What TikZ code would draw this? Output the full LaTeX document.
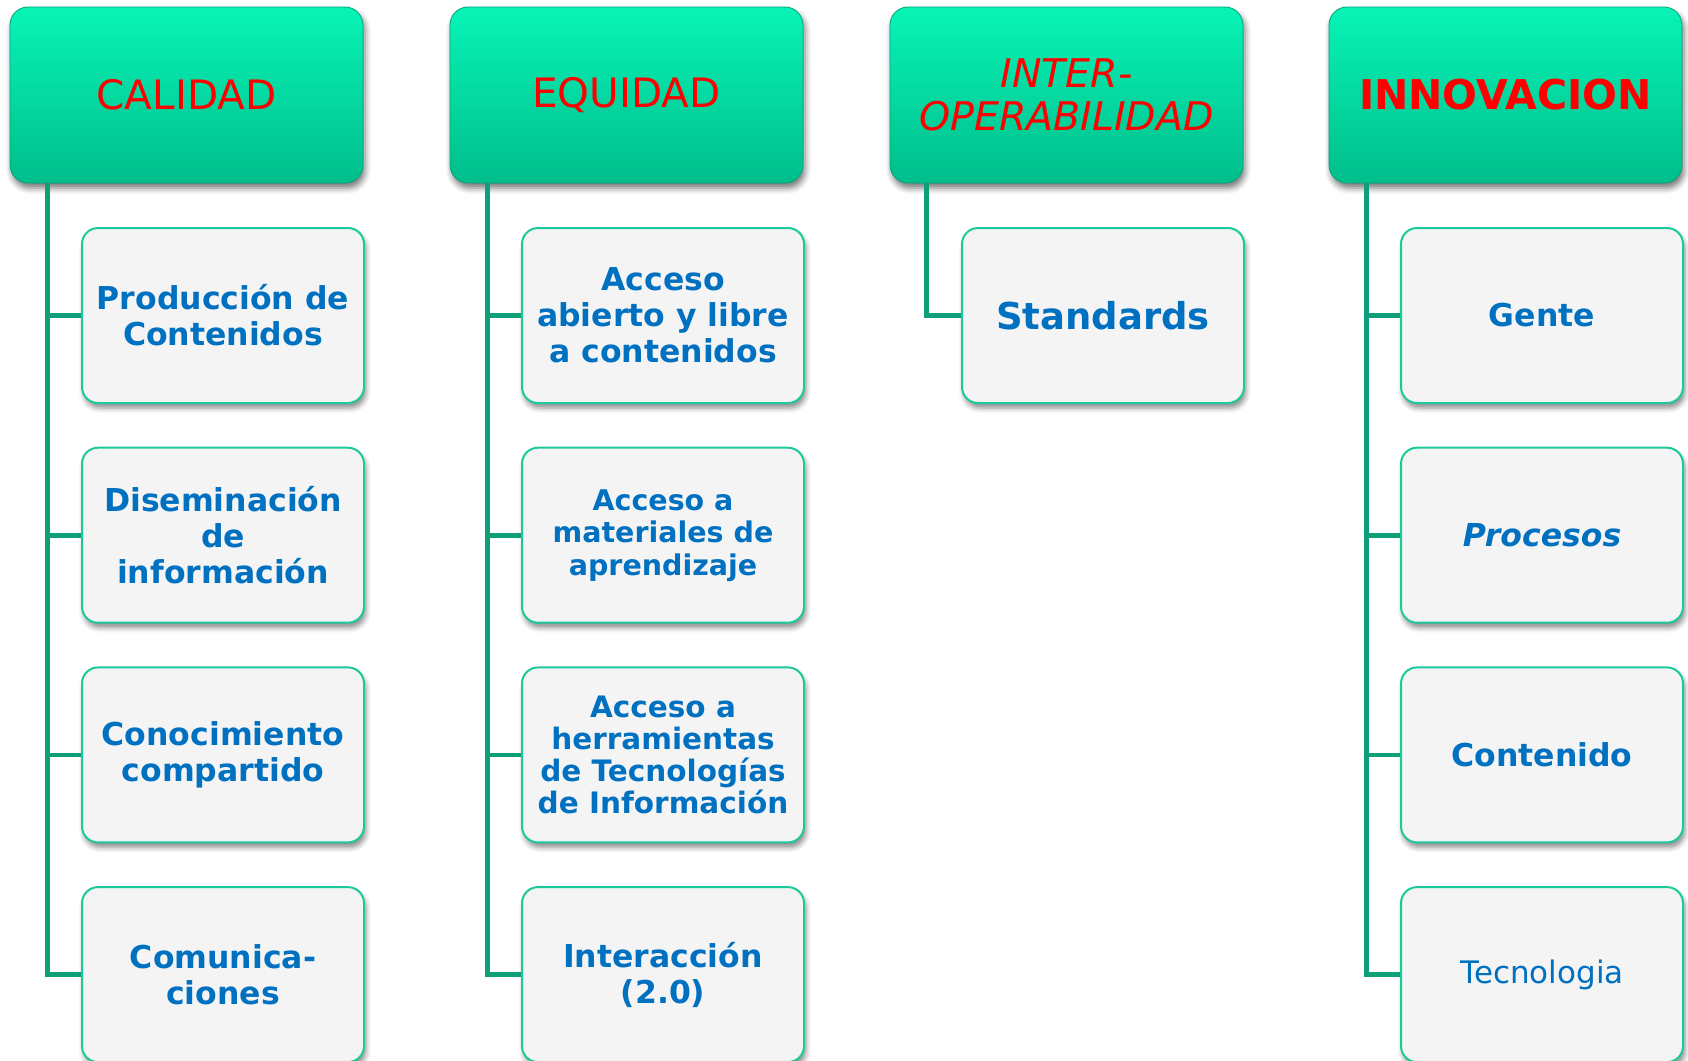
\documentclass[tikz,border=0pt]{standalone}
\usepackage{fontspec}
\setmainfont{DejaVu Sans}
\usetikzlibrary{shadows.blur}
\definecolor{hdtop}{HTML}{08F4B6}
\definecolor{hdbot}{HTML}{00BE8B}
\definecolor{hdline}{HTML}{00A47C}
\definecolor{boxline}{HTML}{1CC99A}
\definecolor{boxfill}{HTML}{F4F4F4}
\definecolor{trunk}{HTML}{0E9E78}
\definecolor{txtblue}{HTML}{0070C0}
\tikzset{
  header/.style={rounded corners=18pt, minimum width=353pt, minimum height=176pt,
    top color=hdtop, bottom color=hdbot, draw=hdline, line width=0.8pt,
    text=red, align=center, font=\fontsize{40.5}{44}\selectfont,
    blur shadow={shadow xshift=2pt, shadow yshift=-5pt, shadow blur radius=6pt, shadow opacity=55}},
  item/.style={rounded corners=16pt, minimum width=282pt, minimum height=175pt,
    fill=boxfill, draw=boxline, line width=2pt,
    text=txtblue, align=center, font=\fontsize{31.5}{36}\selectfont\bfseries,
    blur shadow={shadow xshift=2pt, shadow yshift=-5pt, shadow blur radius=5pt, shadow opacity=45}},
  branch/.style={draw=trunk, line width=4.8pt}
}
\begin{document}
\begin{tikzpicture}[x=1pt,y=-1pt]
      \useasboundingbox (0,0) rectangle (1688,1060);
      % headers
      \path
        (186.5,95) node[header] (cal){CALIDAD}
        (626.5,95) node[header] (equ){EQUIDAD}
        (1066.5,95) node[header, font=\fontsize{39.5}{43}\selectfont\itshape] (int){INTER-\\OPERABILIDAD}
        (1505.5,95) node[header, font=\fontsize{41}{44}\selectfont\bfseries] (inn){INNOVACION};
      % calidad
      \path
        (223,315.5) node[item] (cal1){Producción de\\Contenidos}
        (223,535.2) node[item] (cal2){Diseminación\\de\\información}
        (223,754.9) node[item] (cal3){Conocimiento\\compartido}
        (223,974.6) node[item] (cal4){Comunica-\\ciones};
      % equidad
      \path
        (663,315.5) node[item] (equ1){Acceso\\abierto y libre\\a contenidos}
        (663,535.2) node[item, font=\fontsize{28.5}{32.5}\selectfont\bfseries] (equ2){Acceso a\\materiales de\\aprendizaje}
        (663,754.9) node[item, font=\fontsize{29.5}{32}\selectfont\bfseries] (equ3){Acceso a\\herramientas\\de Tecnologías\\de Información}
        (663,974.6) node[item] (equ4){Interacción\\(2.0)};
      % interoperabilidad
      \path
        (1103,315.5) node[item, font=\fontsize{37}{42}\selectfont\bfseries] (int1){Standards};
      % innovacion
      \path
        (1542,315.5) node[item] (inn1){Gente}
        (1542,535.2) node[item, font=\fontsize{31.5}{36}\selectfont\bfseries\itshape] (inn2){Procesos}
        (1542,754.9) node[item] (inn3){Contenido}
        (1542,974.6) node[item, font=\fontsize{31}{36}\selectfont] (inn4){Tecnologia};
      \begin{scope}[branch]
        \draw ([xshift=38pt]cal.south west) |- (cal1.west);
        \draw ([xshift=38pt]cal.south west) |- (cal2.west);
        \draw ([xshift=38pt]cal.south west) |- (cal3.west);
        \draw ([xshift=38pt]cal.south west) |- (cal4.west);
        \draw ([xshift=38pt]equ.south west) |- (equ1.west);
        \draw ([xshift=38pt]equ.south west) |- (equ2.west);
        \draw ([xshift=38pt]equ.south west) |- (equ3.west);
        \draw ([xshift=38pt]equ.south west) |- (equ4.west);
        \draw ([xshift=37pt]int.south west) |- (int1.west);
        \draw ([xshift=38pt]inn.south west) |- (inn1.west);
        \draw ([xshift=38pt]inn.south west) |- (inn2.west);
        \draw ([xshift=38pt]inn.south west) |- (inn3.west);
        \draw ([xshift=38pt]inn.south west) |- (inn4.west);
      \end{scope}
    \end{tikzpicture}
\end{document}
